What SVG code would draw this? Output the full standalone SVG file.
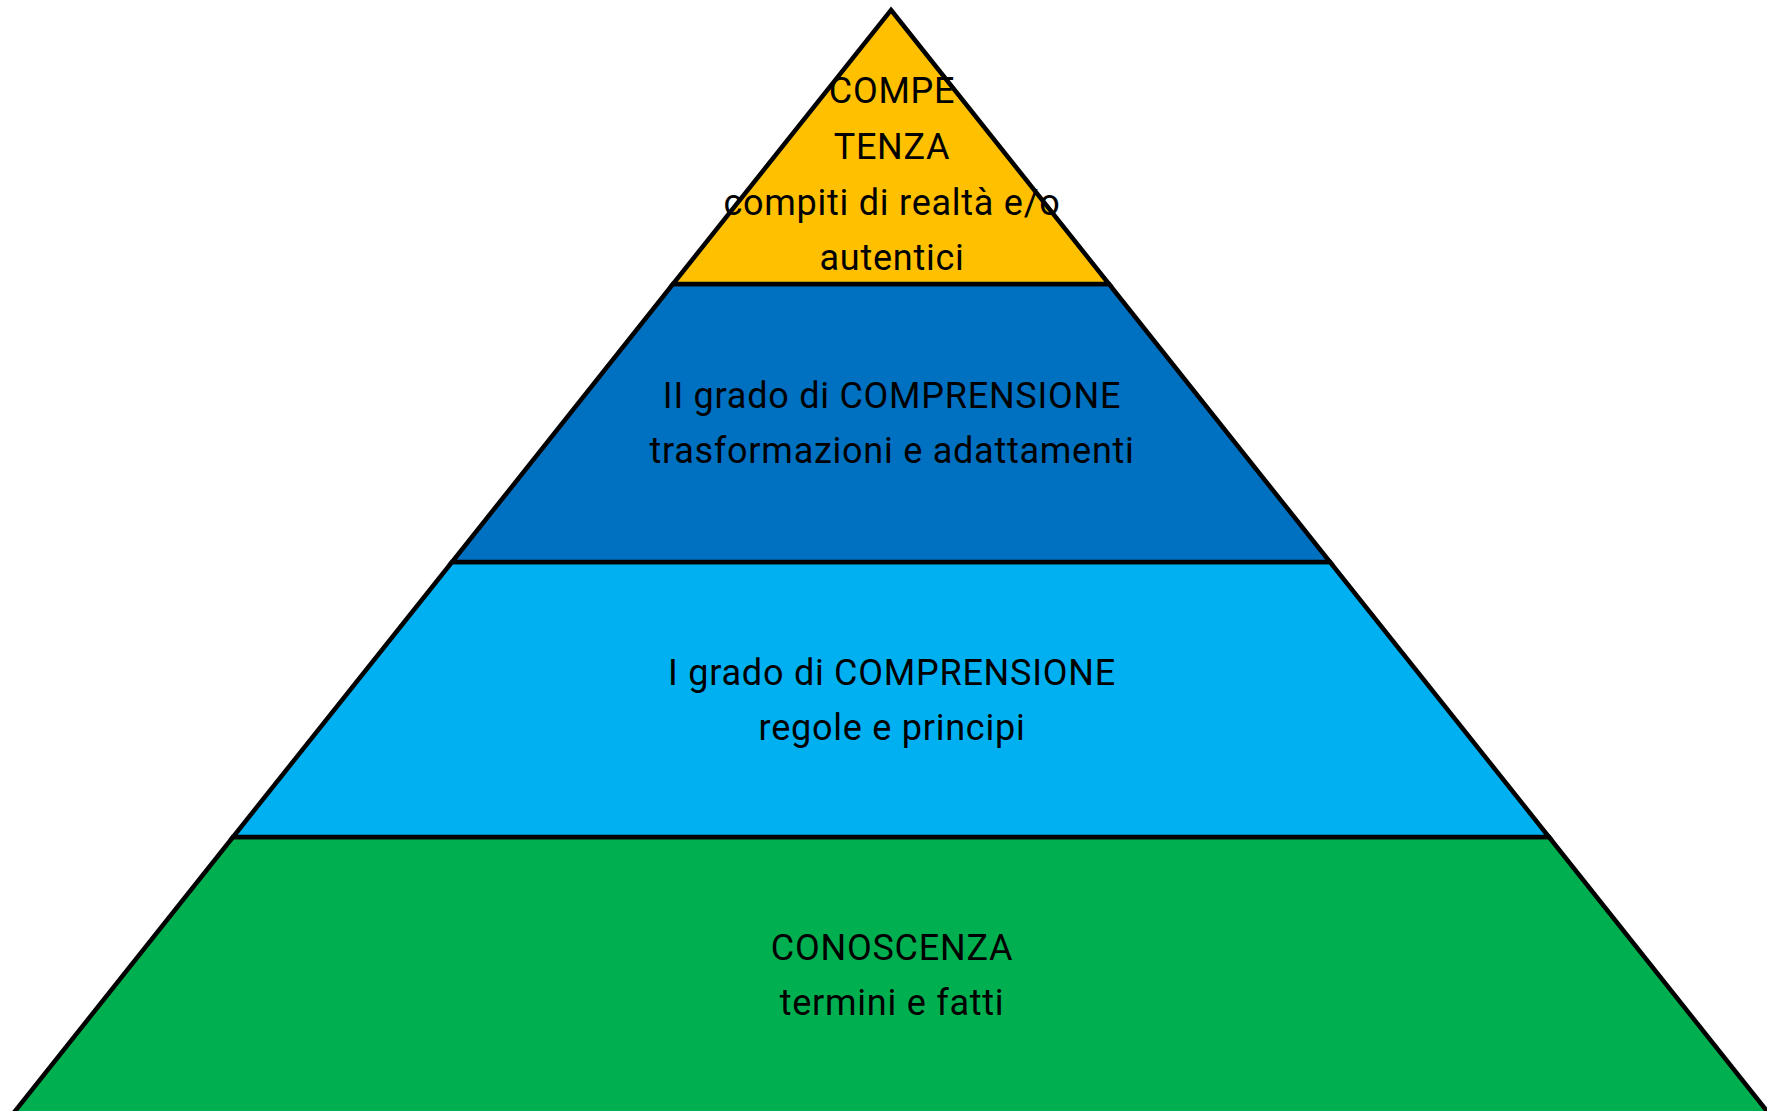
<svg xmlns="http://www.w3.org/2000/svg" width="1767" height="1111" viewBox="0 0 1767 1111">
<style>
.band{stroke:#000;stroke-width:4.5;stroke-linejoin:miter}
.t{font-family:Roboto,"Liberation Sans",sans-serif;font-size:36px;letter-spacing:0.75px;fill:#000;text-anchor:middle}
</style>
<rect width="1767" height="1111" fill="#fff"/>
<g id="conoscenza">
<polygon class="band" fill="#00B050" points="233,837 1549,837 1774,1120 8,1120"/>
<text class="t" x="892" y="960">CONOSCENZA</text>
<text class="t" x="892" y="1015">termini e fatti</text>
</g>
<g id="primo-grado">
<polygon class="band" fill="#00B0F0" points="452,562 1330,562 1549,837 233,837"/>
<text class="t" x="892" y="685">I grado di COMPRENSIONE</text>
<text class="t" x="892" y="740">regole e principi</text>
</g>
<g id="secondo-grado">
<polygon class="band" fill="#0070C0" points="673,284 1109,284 1330,562 452,562"/>
<text class="t" x="892" y="408">II grado di COMPRENSIONE</text>
<text class="t" x="892" y="463">trasformazioni e adattamenti</text>
</g>
<g id="competenza">
<polygon class="band" fill="#FFC000" points="891,10 1109,284 673,284"/>
<text class="t" x="892" y="103">COMPE</text>
<text class="t" x="892" y="159">TENZA</text>
<text class="t" x="892" y="215">compiti di realtà e/o</text>
<text class="t" x="892" y="270">autentici</text>
</g>
<g id="connectors"></g>
</svg>
